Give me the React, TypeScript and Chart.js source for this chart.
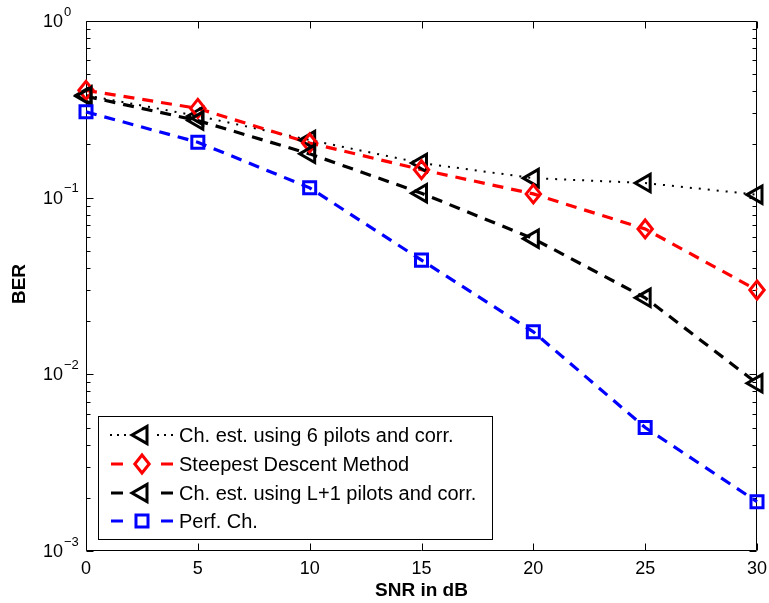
import React, { useEffect, useRef } from 'react';
import { Chart, registerables } from 'chart.js';

Chart.register(...registerables);

// ---- data ----
const snrDb = [0, 5, 10, 15, 20, 25, 30];
const berPilots6 = [0.38, 0.29, 0.212, 0.157, 0.129, 0.121, 0.104];
const berSteepest = [0.405, 0.32, 0.204, 0.144, 0.105, 0.0665, 0.03];
const berPilotsL1 = [0.375, 0.273, 0.177, 0.106, 0.0586, 0.0271, 0.0089];
const berPerfect = [0.306, 0.206, 0.1137, 0.0443, 0.0174, 0.005, 0.0019];

const xTicks = [0, 5, 10, 15, 20, 25, 30];
const yDecadeExps = [0, -1, -2, -3];
const seriesLabels = [
  'Ch. est. using 6 pilots and corr.',
  'Steepest Descent Method',
  'Ch. est. using L+1 pilots and corr.',
  'Perf. Ch.',
];
const xTitle = 'SNR in dB';
const yTitle = 'BER';

const FONT = '"Liberation Sans", Arial, Helvetica, sans-serif';

type MarkerKind = 'triLeft' | 'diamond' | 'square';

const seriesStyles: { color: string; dash: number[]; width: number; marker: MarkerKind; radius: number }[] = [
  { color: '#000000', dash: [2, 7], width: 2, marker: 'triLeft', radius: 10 },
  { color: '#ff0000', dash: [11, 8], width: 3.2, marker: 'diamond', radius: 9 },
  { color: '#000000', dash: [11, 8], width: 3.2, marker: 'triLeft', radius: 10 },
  { color: '#0000ff', dash: [11, 8], width: 3.2, marker: 'square', radius: 8.5 },
];
const seriesValues = [berPilots6, berSteepest, berPilotsL1, berPerfect];

function drawMarker(ctx: CanvasRenderingContext2D, kind: MarkerKind, x: number, y: number, r: number, color: string) {
  ctx.save();
  ctx.setLineDash([]);
  ctx.strokeStyle = color;
  ctx.lineWidth = 3;
  ctx.lineJoin = 'miter';
  ctx.beginPath();
  if (kind === 'triLeft') {
    ctx.moveTo(x - r, y);
    ctx.lineTo(x + r * 0.5, y - r * 0.866);
    ctx.lineTo(x + r * 0.5, y + r * 0.866);
    ctx.closePath();
  } else if (kind === 'diamond') {
    ctx.moveTo(x, y - r);
    ctx.lineTo(x + r * 0.8, y);
    ctx.lineTo(x, y + r);
    ctx.lineTo(x - r * 0.8, y);
    ctx.closePath();
  } else {
    const s = r * Math.SQRT1_2;
    ctx.rect(x - s, y - s, 2 * s, 2 * s);
  }
  ctx.stroke();
  ctx.restore();
}

const axesPlugin = {
  id: 'matlabAxes',
  beforeDatasetsDraw(chart: any) {
    const { ctx, chartArea } = chart;
    const { left, right, top, bottom } = chartArea;
    const xs = chart.scales.x;
    const ys = chart.scales.y;
    ctx.save();
    ctx.strokeStyle = '#000';
    ctx.lineWidth = 1;
    ctx.setLineDash([]);
    const L = Math.round(left) + 0.5;
    const R = Math.round(right) - 0.5;
    const T = Math.round(top) + 0.5;
    const B = Math.round(bottom) - 0.5;
    ctx.beginPath();
    ctx.rect(L, T, R - L, B - T);
    ctx.stroke();
    // x ticks
    ctx.beginPath();
    for (const t of xTicks) {
      const px = Math.round(xs.getPixelForValue(t)) + 0.5;
      ctx.moveTo(px, B);
      ctx.lineTo(px, B - 7);
      ctx.moveTo(px, T);
      ctx.lineTo(px, T + 7);
    }
    // y ticks
    for (const e of yDecadeExps) {
      for (let m = 1; m <= 9; m++) {
        const v = m * Math.pow(10, e);
        if (v > 1.0001) break;
        const py = Math.round(ys.getPixelForValue(v)) + 0.5;
        const len = m === 1 ? 7 : 4;
        ctx.moveTo(L, py);
        ctx.lineTo(L + len, py);
        ctx.moveTo(R, py);
        ctx.lineTo(R - len, py);
      }
    }
    ctx.stroke();
    // x tick labels
    ctx.fillStyle = '#000';
    ctx.font = `18px ${FONT}`;
    ctx.textAlign = 'center';
    ctx.textBaseline = 'middle';
    for (const t of xTicks) {
      ctx.fillText(String(t), xs.getPixelForValue(t), bottom + 18);
    }
    // y tick labels with superscript
    for (const e of yDecadeExps) {
      const py = ys.getPixelForValue(Math.pow(10, e));
      ctx.font = `18px ${FONT}`;
      ctx.textAlign = 'right';
      ctx.textBaseline = 'middle';
      ctx.fillText('10', 63, py + 1);
      ctx.font = `13px ${FONT}`;
      ctx.textAlign = 'left';
      ctx.fillText(e === 0 ? '0' : '\u2212' + String(-e), 64, py - 9);
    }
    // titles
    ctx.font = `bold 19px ${FONT}`;
    ctx.textAlign = 'center';
    ctx.textBaseline = 'middle';
    ctx.fillText(xTitle, (left + right) / 2, 591);
    ctx.save();
    ctx.translate(20, (top + bottom) / 2 - 2);
    ctx.rotate(-Math.PI / 2);
    ctx.fillText(yTitle, 0, 0);
    ctx.restore();
    ctx.restore();
  },
  afterDatasetsDraw(chart: any) {
    const { ctx } = chart;
    const xs = chart.scales.x;
    const ys = chart.scales.y;
    // markers in MATLAB drawing order (first series first, last on top)
    seriesValues.forEach((vals, i) => {
      const st = seriesStyles[i];
      vals.forEach((v, j) => {
        drawMarker(ctx, st.marker, xs.getPixelForValue(snrDb[j]), ys.getPixelForValue(v), st.radius, st.color);
      });
    });
  },
  afterDraw(chart: any) {
    const { ctx } = chart;
    const bx = 98, by = 416, bw = 394, bh = 123;
    ctx.save();
    ctx.fillStyle = '#fff';
    ctx.fillRect(bx, by, bw, bh);
    ctx.strokeStyle = '#000';
    ctx.lineWidth = 1;
    ctx.setLineDash([]);
    ctx.strokeRect(bx + 0.5, by + 0.5, bw, bh);
    const rowY = [435, 464, 493, 521];
    seriesLabels.forEach((lab, i) => {
      const st = seriesStyles[i];
      const y = rowY[i];
      ctx.strokeStyle = st.color;
      ctx.lineWidth = st.width;
      ctx.lineCap = 'butt';
      if (i === 0) {
        ctx.setLineDash([2, 5]);
        ctx.beginPath();
        ctx.moveTo(110, y);
        ctx.lineTo(126, y);
        ctx.moveTo(157, y);
        ctx.lineTo(173, y);
        ctx.stroke();
      } else {
        ctx.setLineDash([]);
        ctx.beginPath();
        ctx.moveTo(111, y);
        ctx.lineTo(123, y);
        ctx.moveTo(161, y);
        ctx.lineTo(173, y);
        ctx.stroke();
      }
      drawMarker(ctx, st.marker, 142, y, st.radius, st.color);
      ctx.fillStyle = '#000';
      ctx.font = `20px ${FONT}`;
      ctx.textAlign = 'left';
      ctx.textBaseline = 'middle';
      ctx.fillText(lab, 179, y + 1);
    });
    ctx.restore();
  },
};

export default function App() {
  const ref = useRef<HTMLCanvasElement | null>(null);
  useEffect(() => {
    if (!ref.current) return;
    const datasets = seriesValues.map((vals, i) => ({
      label: seriesLabels[i],
      data: vals.map((v, j) => ({ x: snrDb[j], y: v })),
      borderColor: seriesStyles[i].color,
      borderWidth: seriesStyles[i].width,
      borderDash: seriesStyles[i].dash,
      pointRadius: 0,
      fill: false,
      tension: 0,
      clip: false as any,
      order: 4 - i,
    }));
    const chart = new Chart(ref.current, {
      type: 'line',
      data: { datasets },
      options: {
        animation: false,
        responsive: false,
        maintainAspectRatio: false,
        layout: { padding: { left: 86, right: 12, top: 21, bottom: 52 } },
        plugins: { legend: { display: false }, tooltip: { enabled: false }, title: { display: false } },
        scales: {
          x: { type: 'linear', min: 0, max: 30, display: false },
          y: { type: 'logarithmic', min: 0.001, max: 1, display: false },
        },
      },
      plugins: [axesPlugin],
    });
    return () => chart.destroy();
  }, []);
  return (
    <div style={{ position: 'fixed', left: 0, top: 0, width: 769, height: 603, background: '#fff' }}>
      <canvas ref={ref} width={769} height={603} style={{ display: 'block', width: 769, height: 603 }} />
    </div>
  );
}
